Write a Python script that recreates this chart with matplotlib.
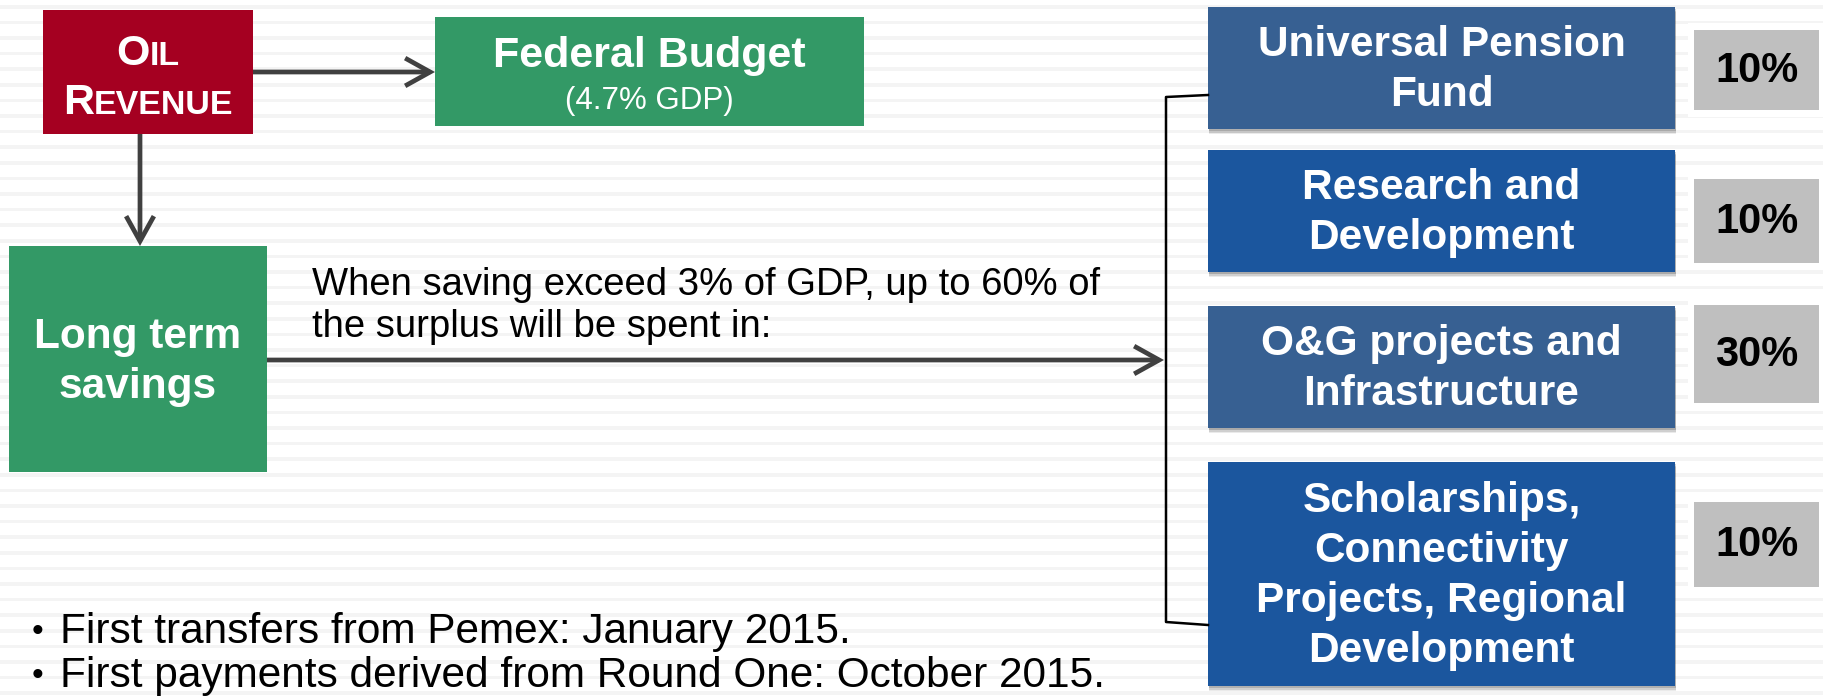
"""Oil revenue flow diagram (Mexican Petroleum Fund style slide)."""
import numpy as np
import matplotlib.pyplot as plt
from matplotlib.patches import Rectangle, FancyArrowPatch

plt.rcParams['font.family'] = ['Liberation Sans', 'DejaVu Sans']

# ---------- content ----------
oil_label = [("O", "IL"), ("R", "EVENUE")]
budget_title = "Federal Budget"
budget_note = "(4.7% GDP)"
savings_label = "Long term\nsavings"
surplus_note = "When saving exceed 3% of GDP, up to 60% of\nthe surplus will be spent in:"
uses = ["Universal Pension\nFund",
        "Research and\nDevelopment",
        "O&G projects and\nInfrastructure",
        "Scholarships,\nConnectivity\nProjects, Regional\nDevelopment"]
shares = [10, 10, 30, 10]
bullets = ["First transfers from Pemex: January 2015.",
           "First payments derived from Round One: October 2015."]

# ---------- layout (pixel units) ----------
W, H = 1823, 697
RED = "#A50021"
GREEN = "#339966"
BLUES = ["#376092", "#1B569E", "#376092", "#1B569E"]
GRAY = "#BFBFBF"
ARROW = "#404040"

use_x0, use_x1 = 1208, 1675
use_y = [(7, 129), (150, 272), (306, 428), (462, 686)]
share_x0, share_x1 = 1694, 1819
share_y = [(30, 110), (179, 263), (305, 403), (502, 587)]

fig = plt.figure(figsize=(W / 100, H / 100), dpi=100)
ax = fig.add_axes([0, 0, 1, 1])
ax.set_xlim(0, W)
ax.set_ylim(H, 0)
ax.axis("off")

# faint striped slide background
for yy in np.arange(5, H, 15.6):
    ax.axhspan(yy, yy + 3.5, color="#F4F4F4", lw=0, zorder=0)


def box(x0, y0, x1, y1, color, z=2, shadow=False):
    if shadow:
        for off, a in [(5, 0.12), (3.5, 0.18), (2, 0.25)]:
            ax.add_patch(Rectangle((x0 + 1, y0 + off), x1 - x0, y1 - y0,
                                   color="#555555", alpha=a, lw=0, zorder=z - 0.5))
    ax.add_patch(Rectangle((x0, y0), x1 - x0, y1 - y0, color=color, lw=0, zorder=z))


def arrow(p0, p1):
    ax.add_patch(FancyArrowPatch(p0, p1, arrowstyle="->,head_length=0.9,head_width=0.5",
                                 mutation_scale=20, lw=3.4, color=ARROW,
                                 shrinkA=0, shrinkB=0, zorder=3,
                                 joinstyle="miter", capstyle="butt"))


# ---------- Oil revenue ----------
box(43, 10, 253, 134, RED)
r = fig.canvas.get_renderer()
for (big, small), base in zip(oil_label, [65, 114]):
    t1 = ax.text(0, base, big, fontsize=31, fontweight="bold", color="white",
                 va="baseline", ha="left", zorder=4)
    t2 = ax.text(0, base, small, fontsize=24.5, fontweight="bold", color="white",
                 va="baseline", ha="left", zorder=4)
    w1 = t1.get_window_extent(r).width
    w2 = t2.get_window_extent(r).width
    start = 148 - (w1 + w2) / 2
    t1.set_x(start)
    t2.set_x(start + w1)

# ---------- Federal budget ----------
box(435, 17, 864, 126, GREEN)
ax.text(649, 56, budget_title, fontsize=31, fontweight="bold", color="white",
        ha="center", va="center", zorder=4)
ax.text(649, 101, budget_note, fontsize=22.5, color="white",
        ha="center", va="center", zorder=4)
arrow((253, 72), (435, 72))

# ---------- Long term savings ----------
box(9, 246, 267, 472, GREEN)
ax.text(138, 362, savings_label, fontsize=30.5, fontweight="bold", color="white",
        ha="center", va="center", linespacing=1.32, zorder=4)
arrow((140, 134), (140, 246))

ax.text(312, 306, surplus_note, fontsize=27.5, color="black",
        ha="left", va="center", linespacing=1.2, zorder=4)
arrow((267, 360), (1164, 360))

# bracket
ax.plot([1208, 1166, 1166, 1208], [95, 97, 622, 625], color="black", lw=1.8,
        solid_joinstyle="round", zorder=3)

# ---------- uses of surplus ----------
for label, (y0, y1), c in zip(uses, use_y, BLUES):
    box(use_x0, y0, use_x1, y1, c, z=2, shadow=True)
    ax.text((use_x0 + use_x1) / 2, (y0 + y1) / 2 + 2, label, fontsize=30.5,
            fontweight="bold", color="white", ha="center", va="center",
            linespacing=1.32, zorder=4)

for s, (y0, y1) in zip(shares, share_y):
    box(share_x0 - 6, y0 - 7, W, y1 + 7, "white", z=1.5)
    box(share_x0, y0, share_x1, y1, GRAY)
    ax.text((share_x0 + share_x1) / 2, (y0 + y1) / 2 + 1, f"{s}%", fontsize=30,
            fontweight="bold", color="black", ha="center", va="center", zorder=4)

# ---------- bullets ----------
for txt, yy in zip(bullets, [632, 676]):
    ax.text(32, yy, "\u2022", fontsize=24, color="black", ha="left", va="center", zorder=4)
    ax.text(60, yy, txt, fontsize=30.5, color="black", ha="left", va="center", zorder=4)

fig.savefig("out.png", dpi=100)
